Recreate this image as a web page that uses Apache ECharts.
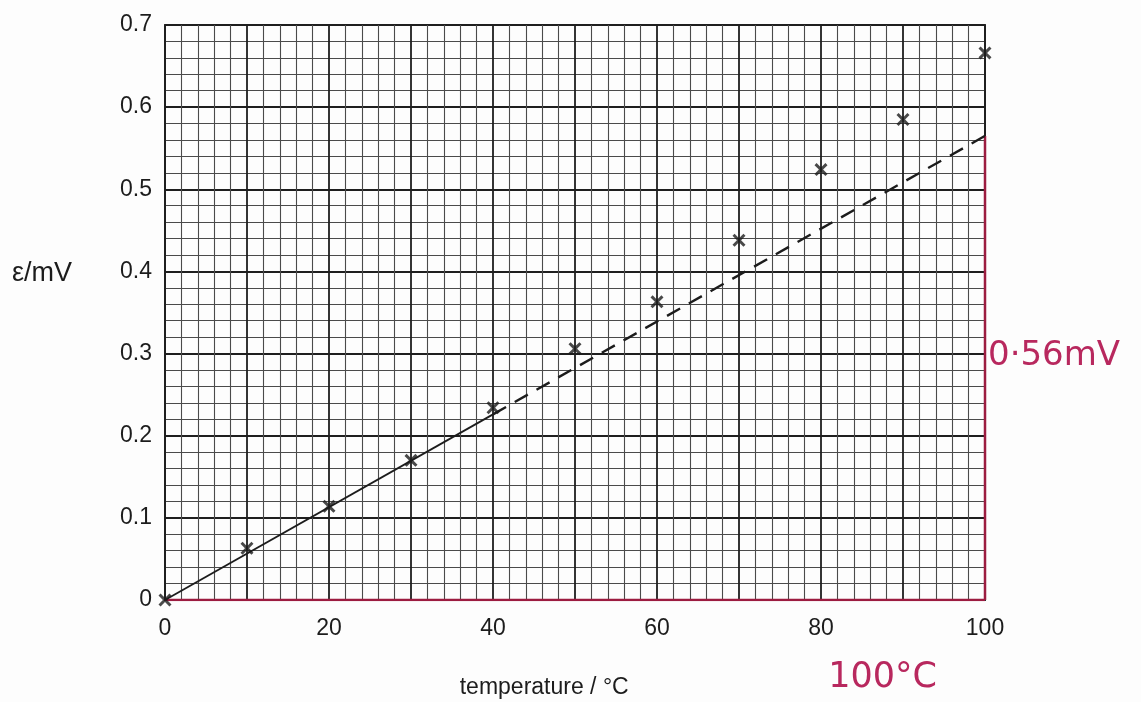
<!DOCTYPE html>
<html>
<head>
<meta charset="utf-8">
<script src="https://cdn.jsdelivr.net/npm/echarts@6/dist/echarts.min.js"></script>
<style>
  html, body { margin: 0; padding: 0; background: #fdfdfd; }
  #chart { width: 1141px; height: 702px; }
</style>
</head>
<body>
<div id="chart"></div>
<script>
// measured points (temperature in °C, e.m.f. in mV)
const temperatures = [0, 10, 20, 30, 40, 50, 60, 70, 80, 90, 100];
const emf = [0, 0.063, 0.114, 0.17, 0.234, 0.306, 0.363, 0.438, 0.524, 0.585, 0.666];

// best-fit line through the low-temperature points, extrapolated (dashed)
const fitSolid = [[0, 0], [40, 0.226]];
const fitDashed = [[40, 0.226], [100, 0.565]];

// red working lines drawn on the graph
const redVertical = [[100, 0], [100, 0.565]];
const redBase = [[0, 0], [100, 0]];

const xTicks = [0, 20, 40, 60, 80, 100];
const yTicks = [0, 0.1, 0.2, 0.3, 0.4, 0.5, 0.6, 0.7];

const INK = "#1c1c1c";
const RED = "#9c1c40";
const PEN = "#b8285e";
const FONT = "'Liberation Sans', Arial, sans-serif";

const crossPath =
  "path://M0,1.6L1.6,0L5,3.4L8.4,0L10,1.6L6.6,5L10,8.4L8.4,10L5,6.6L1.6,10L0,8.4L3.4,5Z";

const chart = echarts.init(document.getElementById("chart"));

chart.setOption({
  backgroundColor: "#fdfdfd",
  animation: false,
  grid: {
    left: 165, top: 25, width: 820, height: 575,
    show: true, borderColor: INK, borderWidth: 1.8,
  },
  xAxis: {
    type: "value",
    min: 0, max: 100, interval: 10,
    axisLine: { show: false },
    axisTick: { show: false },
    axisLabel: {
      color: INK, fontSize: 23, fontFamily: FONT, margin: 17,
      formatter: (v) => (xTicks.includes(v) ? String(v) : ""),
    },
    splitLine: { show: true, lineStyle: { color: "#1e1e1e", width: 1.8 } },
    minorTick: { show: false, splitNumber: 5 },
    minorSplitLine: { show: true, lineStyle: { color: "#4a4a4a", width: 1.1 } },
  },
  yAxis: {
    type: "value",
    min: 0, max: 0.7, interval: 0.1,
    axisLine: { show: false },
    axisTick: { show: false },
    axisLabel: {
      color: INK, fontSize: 23, fontFamily: FONT, margin: 13,
      formatter: (v) => {
        const t = yTicks.find((y) => Math.abs(y - v) < 1e-6);
        return t === 0 ? "0" : t.toFixed(1);
      },
    },
    splitLine: { show: true, lineStyle: { color: "#1e1e1e", width: 1.8 } },
    minorTick: { show: false, splitNumber: 5 },
    minorSplitLine: { show: true, lineStyle: { color: "#4a4a4a", width: 1.1 } },
  },
  series: [
    {
      type: "line",
      data: redBase,
      symbol: "none",
      lineStyle: { color: RED, width: 2.5 },
      z: 3,
    },
    {
      type: "line",
      data: redVertical,
      symbol: "none",
      lineStyle: { color: RED, width: 2.5 },
      z: 3,
    },
    {
      type: "line",
      data: fitSolid,
      symbol: "none",
      lineStyle: { color: INK, width: 1.8 },
      z: 4,
    },
    {
      type: "line",
      data: fitDashed,
      symbol: "none",
      lineStyle: { color: INK, width: 2.4, type: [15, 10] },
      z: 4,
    },
    {
      type: "scatter",
      data: temperatures.map((t, i) => [t, emf[i]]),
      symbol: crossPath,
      symbolSize: 13,
      itemStyle: { color: INK },
      clip: false,
      z: 5,
    },
  ],
});

// text placed relative to the axes
const at = (x, y) => chart.convertToPixel({ gridIndex: 0 }, [x, y]);
const yName = at(0, 0.4);
const xMid = at(46, 0);
const redNote = at(100, 0.3);
const tempNote = at(81, 0);

chart.setOption({
  graphic: [
    {
      type: "text",
      x: 12, y: yName[1] + 2,
      style: {
        text: "ε/mV", font: `27px ${FONT}`, fill: INK,
        textVerticalAlign: "middle",
      },
    },
    {
      type: "text",
      x: xMid[0] + 2, y: xMid[1] + 88,
      style: {
        text: "temperature / °C", font: `23px ${FONT}`, fill: INK,
        textAlign: "center", textVerticalAlign: "middle",
      },
    },
    {
      type: "text",
      x: redNote[0] + 3, y: redNote[1] + 3,
      style: {
        text: "0·56mV", font: `34px 'DejaVu Sans', sans-serif`, fill: PEN,
        textVerticalAlign: "middle",
      },
    },
    {
      type: "text",
      x: tempNote[0] - 1, y: tempNote[1] + 78,
      style: {
        text: "100°C", font: `35px 'DejaVu Sans', sans-serif`, fill: PEN,
        textVerticalAlign: "middle",
      },
    },
  ],
});
</script>
</body>
</html>
